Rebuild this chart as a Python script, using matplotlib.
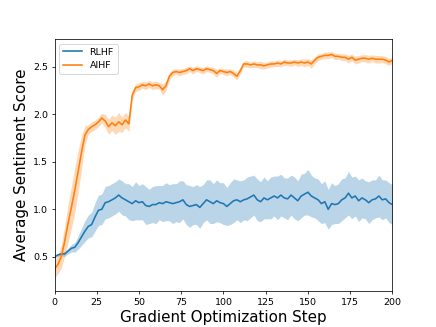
import numpy as np
import matplotlib
matplotlib.use("Agg")
import matplotlib.pyplot as plt

steps = list(range(0, 201, 2))

aihf_mean = [0.37, 0.42, 0.50, 0.66, 0.85, 1.02, 1.20, 1.40, 1.60, 1.78,
             1.84, 1.87, 1.89, 1.92, 1.96, 1.93, 1.87, 1.91, 1.88, 1.92,
             1.89, 1.94, 1.90, 2.20, 2.28, 2.29, 2.31, 2.30, 2.32, 2.30,
             2.31, 2.30, 2.26, 2.30, 2.40, 2.44, 2.45, 2.44, 2.45, 2.46,
             2.48, 2.46, 2.48, 2.47, 2.46, 2.48, 2.47, 2.46, 2.43, 2.46,
             2.45, 2.44, 2.45, 2.43, 2.40, 2.46, 2.53, 2.53, 2.52, 2.53,
             2.52, 2.52, 2.51, 2.52, 2.53, 2.53, 2.54, 2.53, 2.55, 2.54,
             2.54, 2.55, 2.54, 2.55, 2.54, 2.55, 2.53, 2.57, 2.60, 2.61,
             2.62, 2.62, 2.63, 2.61, 2.61, 2.60, 2.60, 2.58, 2.60, 2.57,
             2.58, 2.59, 2.59, 2.58, 2.59, 2.58, 2.58, 2.58, 2.57, 2.55,
             2.57]
aihf_hw = [0.09, 0.10, 0.12, 0.16, 0.20, 0.22, 0.24, 0.22, 0.18, 0.10,
           0.05, 0.05, 0.05, 0.05, 0.05, 0.07, 0.08, 0.08, 0.09, 0.10,
           0.08, 0.08, 0.08, 0.05, 0.04, 0.04, 0.035, 0.04, 0.035, 0.04,
           0.04, 0.035, 0.06, 0.05, 0.04, 0.035, 0.03, 0.035, 0.03, 0.035,
           0.03, 0.035, 0.03, 0.03, 0.035, 0.03, 0.03, 0.035, 0.04, 0.03,
           0.03, 0.035, 0.03, 0.035, 0.04, 0.035, 0.03, 0.035, 0.03, 0.035,
           0.03, 0.04, 0.035, 0.03, 0.035, 0.03, 0.035, 0.03, 0.035, 0.03,
           0.035, 0.03, 0.035, 0.035, 0.04, 0.035, 0.045, 0.035, 0.035, 0.03,
           0.035, 0.035, 0.03, 0.035, 0.03, 0.035, 0.035, 0.04, 0.035, 0.04,
           0.04, 0.035, 0.04, 0.04, 0.035, 0.04, 0.04, 0.035, 0.04, 0.035,
           0.035]

rlhf_mean = [0.50, 0.52, 0.53, 0.53, 0.56, 0.59, 0.60, 0.65, 0.71, 0.77,
             0.82, 0.84, 0.92, 0.99, 1.00, 1.07, 1.08, 1.10, 1.12, 1.15,
             1.12, 1.10, 1.08, 1.06, 1.09, 1.07, 1.08, 1.04, 1.03, 1.05,
             1.05, 1.07, 1.06, 1.08, 1.07, 1.06, 1.07, 1.08, 1.10, 1.05,
             1.03, 1.04, 1.05, 1.02, 1.06, 1.10, 1.08, 1.06, 1.09, 1.07,
             1.06, 1.03, 1.06, 1.09, 1.10, 1.08, 1.10, 1.11, 1.13, 1.15,
             1.10, 1.08, 1.12, 1.10, 1.12, 1.14, 1.12, 1.15, 1.12, 1.11,
             1.15, 1.12, 1.09, 1.14, 1.16, 1.18, 1.14, 1.12, 1.10, 1.06,
             1.08, 1.00, 1.06, 1.05, 1.06, 1.10, 1.12, 1.17, 1.12, 1.14,
             1.09, 1.12, 1.10, 1.07, 1.10, 1.11, 1.14, 1.10, 1.11, 1.07,
             1.05]
rlhf_hw = [0.01, 0.015, 0.02, 0.025, 0.03, 0.04, 0.05, 0.07, 0.09, 0.11,
           0.12, 0.13, 0.15, 0.16, 0.16, 0.17, 0.17, 0.17, 0.17, 0.17,
           0.18, 0.17, 0.19, 0.18, 0.20, 0.18, 0.19, 0.20, 0.18, 0.19,
           0.20, 0.18, 0.19, 0.20, 0.19, 0.21, 0.20, 0.22, 0.20, 0.21,
           0.22, 0.20, 0.21, 0.22, 0.20, 0.21, 0.23, 0.21, 0.22, 0.21,
           0.22, 0.20, 0.22, 0.23, 0.21, 0.22, 0.21, 0.23, 0.22, 0.21,
           0.22, 0.21, 0.22, 0.20, 0.22, 0.21, 0.23, 0.22, 0.21, 0.22,
           0.21, 0.22, 0.21, 0.23, 0.22, 0.24, 0.22, 0.21, 0.22, 0.21,
           0.22, 0.21, 0.22, 0.20, 0.21, 0.22, 0.21, 0.23, 0.22, 0.21,
           0.22, 0.21, 0.20, 0.22, 0.21, 0.20, 0.22, 0.21, 0.20, 0.21,
           0.21]

x = np.array(steps)
am, ah = np.array(aihf_mean), np.array(aihf_hw)
rm, rh = np.array(rlhf_mean), np.array(rlhf_hw)

fig, ax = plt.subplots(figsize=(6.4, 4.8), dpi=68.125)
ax.plot(x, rm, color="tab:blue", label="RLHF", lw=1.7)
ax.fill_between(x, rm - rh, rm + rh, color="tab:blue", alpha=0.3, lw=0)
ax.plot(x, am, color="tab:orange", label="AIHF", lw=1.7)
ax.fill_between(x, am - ah, am + ah, color="tab:orange", alpha=0.3, lw=0)
ax.set_xlim(0, 200)
ax.set_ylim(0.14, 2.79)
ax.set_xlabel("Gradient Optimization Step", fontsize=16)
ax.set_ylabel("Average Sentiment Score", fontsize=16)
ax.legend(loc="upper left")
fig.savefig("out.png", dpi=68.125)
